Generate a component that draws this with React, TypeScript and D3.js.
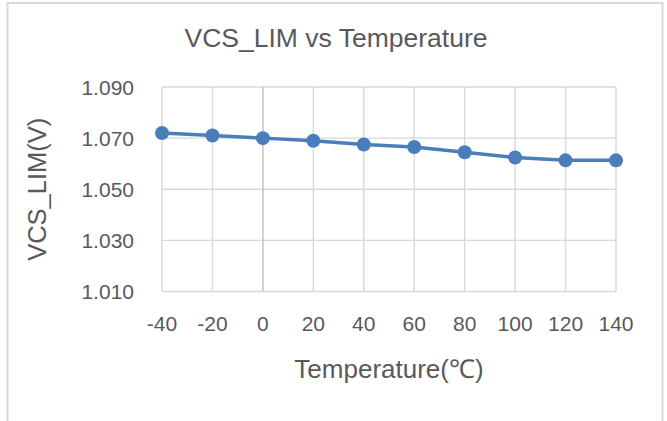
import React from "react";
import * as d3 from "d3";

const temperatures = [-40, -20, 0, 20, 40, 60, 80, 100, 120, 140];
const vcsLim = [1.072, 1.071, 1.07, 1.069, 1.0675, 1.0665, 1.0645, 1.0624, 1.0613, 1.0613];
const yTicks = [1.01, 1.03, 1.05, 1.07, 1.09];

const W = 667;
const H = 421;
const M = { left: 162, right: 616, top: 87, bottom: 291.5 };
const TEXT = "#595959";
const GRID = "#d9d9d9";
const BLUE = "#4a7ebb";
const FONT = "'Liberation Sans', Arial, sans-serif";

export default function App() {
  const x = d3.scalePoint<number>().domain(temperatures).range([M.left, M.right]);
  const y = d3.scaleLinear().domain([1.01, 1.09]).range([M.bottom, M.top]);
  const line = d3
    .line<number>()
    .x((_, i) => x(temperatures[i]) as number)
    .y((d) => y(d));

  return (
    <svg
      width={W}
      height={H}
      style={{ position: "absolute", left: 0, top: 0, background: "#fff" }}
      fontFamily={FONT}
    >
      <rect x={7.5} y={3} width={655} height={430} fill="#fff" stroke={GRID} strokeWidth={2} />
      <text x={336} y={47} textAnchor="middle" fontSize={26.5} fill={TEXT}>
        VCS_LIM vs Temperature
      </text>
      {yTicks.map((t) => (
        <line key={"h" + t} x1={M.left} x2={M.right} y1={y(t)} y2={y(t)} stroke={GRID} strokeWidth={1.4} />
      ))}
      {temperatures.map((t) => (
        <line
          key={"v" + t}
          x1={x(t)}
          x2={x(t)}
          y1={M.top}
          y2={M.bottom}
          stroke={t === 0 ? "#bfbfbf" : GRID}
          strokeWidth={1.4}
        />
      ))}
      {yTicks.map((t) => (
        <text key={"yl" + t} x={134} y={y(t)} dy="0.36em" textAnchor="end" fontSize={21} fill={TEXT}>
          {d3.format(".3f")(t)}
        </text>
      ))}
      {temperatures.map((t) => (
        <text key={"xl" + t} x={x(t)} y={331} textAnchor="middle" fontSize={21} fill={TEXT}>
          {t}
        </text>
      ))}
      <text x={389} y={378} textAnchor="middle" fontSize={26} fill={TEXT}>
        Temperature(℃)
      </text>
      <text
        transform={`translate(46, ${(M.top + M.bottom) / 2}) rotate(-90)`}
        textAnchor="middle"
        fontSize={25.5}
        fill={TEXT}
      >
        VCS_LIM(V)
      </text>
      <path d={line(vcsLim) || ""} fill="none" stroke={BLUE} strokeWidth={3.5} strokeLinejoin="round" />
      {vcsLim.map((v, i) => (
        <circle key={"c" + i} cx={x(temperatures[i])} cy={y(v)} r={7} fill={BLUE} />
      ))}
    </svg>
  );
}
